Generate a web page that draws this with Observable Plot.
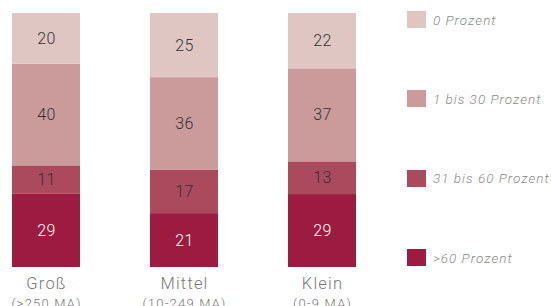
<!DOCTYPE html>
<html>
<head>
<meta charset="utf-8">
<script src="https://cdn.jsdelivr.net/npm/d3@7"></script>
<script src="https://cdn.jsdelivr.net/npm/@observablehq/plot@0.6"></script>
<style>
  html, body { margin: 0; padding: 0; background: #fff; }
  #wrap { position: relative; width: 551px; height: 306px; overflow: hidden; font-family: Roboto, "Liberation Sans", sans-serif; }
  #chart { position: absolute; left: 0; top: 0; }
  .leg { position: absolute; left: 407px; display: flex; align-items: center; }
  .leg .sw { width: 19px; height: 17px; }
  .leg .lb { margin-left: 7px; font-style: italic; font-weight: 300; font-size: 13.5px; letter-spacing: 1px; color: #8a8a8a; white-space: nowrap; }
</style>
</head>
<body>
<div id="wrap"><div id="chart"></div></div>
<script>
const categories = ["Groß", "Mittel", "Klein"];
const subLabels = ["(>250 MA)", "(10-249 MA)", "(0-9 MA)"];
const series = ["> 60 Prozent", "31 bis 60 Prozent", "1 bis 30 Prozent", "0 Prozent"];
const colors = ["#9d1b40", "#aa4a5c", "#cb9b9c", "#e0c6c3"];
const v60 = [29, 21, 29];
const v31 = [11, 17, 13];
const v1 = [40, 36, 37];
const v0 = [20, 25, 22];
const legendOrder = ["0 Prozent", "1 bis 30 Prozent", "31 bis 60 Prozent", "> 60 Prozent"];

const valuesBySeries = [v60, v31, v1, v0];
const data = [];
series.forEach((s, si) => {
  categories.forEach((c, ci) => data.push({cat: c, series: s, value: valuesBySeries[si][ci]}));
});

const plot = Plot.plot({
  width: 395,
  height: 306,
  marginTop: 13,
  marginBottom: 39,
  marginLeft: 11.5,
  marginRight: 38.5,
  style: {fontFamily: "Roboto, 'Liberation Sans', sans-serif", background: "transparent", letterSpacing: "0.5px"},
  x: {domain: categories, paddingInner: 0.509, paddingOuter: 0, axis: null},
  y: {domain: [0, 1], axis: null},
  color: {domain: series, range: colors},
  marks: [
    Plot.barY(data, Plot.stackY({x: "cat", y: "value", z: "series", fill: "series", order: series, offset: "normalize"})),
    Plot.text(data, Plot.stackY({
      x: "cat", y: "value", z: "series", order: series, offset: "normalize",
      text: d => String(d.value),
      fill: d => d.series === series[0] ? "#ffffff" : "#333333",
      fontSize: 16, fontWeight: 300
    })),
    Plot.text(categories, {x: d => d, frameAnchor: "bottom", lineAnchor: "middle", dy: 16, text: d => d, fontSize: 16.5, fontWeight: 300, fill: "#777777", className: "catlab"}),
    Plot.text(categories, {x: d => d, frameAnchor: "bottom", lineAnchor: "middle", dy: 36, text: (d, i) => subLabels[i], fontSize: 13, fontWeight: 300, fill: "#777777", className: "catlab"})
  ]
});
document.getElementById("chart").appendChild(plot);
plot.querySelectorAll("g.catlab text").forEach(t => t.style.letterSpacing = "1.2px");

const wrap = document.getElementById("wrap");
const centers = [19.5, 98.5, 178, 257.5];
legendOrder.forEach((s, i) => {
  const row = document.createElement("div");
  row.className = "leg";
  row.style.top = (centers[i] - 8.5) + "px";
  row.style.height = "17px";
  const sw = document.createElement("div");
  sw.className = "sw";
  sw.style.background = colors[series.indexOf(s)];
  const lb = document.createElement("div");
  lb.className = "lb";
  lb.textContent = s === "> 60 Prozent" ? ">60 Prozent" : s;
  row.appendChild(sw);
  row.appendChild(lb);
  wrap.appendChild(row);
});
</script>
</body>
</html>
